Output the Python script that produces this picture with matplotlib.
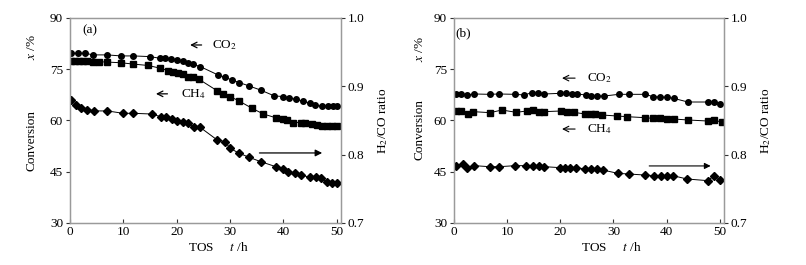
import matplotlib
matplotlib.use("Agg")
import matplotlib.pyplot as plt

plt.rcParams['font.family'] = ['Liberation Serif', 'DejaVu Serif']
plt.rcParams['mathtext.fontset'] = 'stix'

# ---- Panel (a) data ----
a_co2_t = [0.2, 1.6, 2.9, 4.25, 6.9, 9.6, 11.9, 15.0, 16.9, 17.9, 18.9, 20.0, 21.1, 22.2, 23.1, 24.4,
           27.8, 29.1, 30.3, 31.75, 33.6, 35.75, 38.3, 40.0, 41.1, 42.4, 43.6, 45.0, 45.9, 47.2, 48.4, 49.4, 50.1]
a_co2_x = [79.7, 79.7, 79.7, 79.2, 79.2, 78.9, 78.9, 78.7, 78.2, 78.2, 78.0, 77.7, 77.4, 76.9, 76.4, 75.8,
           73.3, 72.6, 71.9, 71.1, 70.1, 68.9, 67.2, 67.0, 66.6, 66.2, 65.7, 65.0, 64.4, 64.2, 64.2, 64.2, 64.2]

a_ch4_t = [0.2, 0.9, 1.7, 2.5, 3.25, 4.4, 5.5, 6.9, 9.6, 11.9, 14.7, 16.9, 18.4, 19.4, 20.3, 21.25, 22.2, 23.0, 24.25,
           27.6, 28.75, 30.0, 31.6, 34.1, 36.25, 38.6, 39.9, 40.75, 41.75, 43.25, 44.1, 45.3, 46.25, 47.2, 48.1, 49.1, 50.0]
a_ch4_x = [77.4, 77.4, 77.4, 77.4, 77.4, 77.2, 77.2, 77.1, 76.9, 76.5, 76.1, 75.3, 74.6, 74.3, 74.0, 73.6, 72.8, 72.6, 72.0,
           68.7, 67.7, 67.0, 65.8, 63.6, 61.9, 60.8, 60.5, 60.1, 59.4, 59.4, 59.2, 59.0, 58.7, 58.4, 58.4, 58.4, 58.4]

a_ratio_t = [0.2, 1.1, 2.0, 3.25, 4.5, 7.0, 10.0, 11.9, 15.3, 17.0, 18.0, 19.1, 20.1, 21.1, 22.2, 23.25, 24.4,
             27.6, 29.1, 30.0, 31.75, 33.6, 35.75, 38.6, 39.9, 40.9, 42.2, 43.4, 45.0, 46.1, 47.0, 48.1, 49.1, 50.1]
a_ratio = [0.880, 0.873, 0.868, 0.866, 0.864, 0.864, 0.8605, 0.8605, 0.8595, 0.8556, 0.8546, 0.8517, 0.8498, 0.8478,
           0.8459, 0.840, 0.840, 0.8215, 0.819, 0.8093, 0.802, 0.7961, 0.7898, 0.7824, 0.779, 0.7751, 0.7727, 0.7702,
           0.7668, 0.7678, 0.7654, 0.7605, 0.758, 0.758]

# ---- Panel (b) data ----
b_co2_t = [0.4, 1.4, 2.4, 3.8, 6.7, 8.4, 11.5, 13.25, 14.6, 15.8, 17.0, 20.0, 21.0, 22.2, 23.2, 24.8, 25.8, 26.9, 28.3,
           31.0, 33.0, 36.0, 37.4, 38.8, 40.1, 41.3, 44.0, 47.7, 49.0, 50.1]
b_co2_x = [67.66, 67.66, 67.46, 67.76, 67.66, 67.76, 67.66, 67.46, 68.15, 67.95, 67.76, 67.95, 67.95, 67.85, 67.76, 67.46,
           67.17, 67.17, 67.17, 67.66, 67.66, 67.66, 66.98, 66.88, 66.78, 66.49, 65.41, 65.41, 65.41, 64.83]

b_ch4_t = [0.4, 1.4, 2.7, 3.6, 6.8, 9.0, 11.7, 13.7, 14.9, 15.9, 17.0, 20.1, 21.2, 22.5, 24.7, 25.75, 26.6, 27.8,
           30.65, 32.5, 35.9, 37.4, 38.8, 40.1, 41.3, 44.0, 47.7, 49.0, 50.4]
b_ch4_x = [62.78, 62.78, 61.80, 62.59, 62.29, 63.07, 62.39, 62.78, 63.07, 62.59, 62.59, 62.78, 62.39, 62.39, 61.90,
           61.90, 61.90, 61.61, 61.32, 61.12, 60.83, 60.63, 60.83, 60.34, 60.44, 60.15, 59.85, 60.15, 59.46]

b_ratio_t = [0.4, 1.6, 2.4, 3.8, 6.7, 8.5, 11.5, 13.5, 14.95, 15.9, 17.0, 20.0, 20.9, 21.9, 23.0, 24.7, 25.75, 26.9,
             27.95, 30.8, 32.85, 35.9, 37.6, 38.9, 40.1, 41.2, 43.8, 47.7, 49.0, 50.1]
b_ratio = [0.7839, 0.7863, 0.7810, 0.7839, 0.7824, 0.7824, 0.7839, 0.7839, 0.7839, 0.7839, 0.7824, 0.7810, 0.7800,
           0.7810, 0.7810, 0.7790, 0.7790, 0.7790, 0.7776, 0.7727, 0.7717, 0.7702, 0.7693, 0.7693, 0.7693, 0.7693,
           0.7644, 0.7620, 0.7693, 0.7629]

x_ticks = [0, 10, 20, 30, 40, 50]
y_ticks = [30, 45, 60, 75, 90]
r_ticks = [0.7, 0.8, 0.9, 1.0]

fig = plt.figure(figsize=(8.06, 2.65), dpi=100)
spine_c = '#9a9a9a'
fs = 9.5


def setup(ax, xlab_x, ylab_x, conv_y, xper_y):
    ax.set_xlim(0, 50.8)
    ax.set_ylim(30, 90)
    ax.set_xticks(x_ticks)
    ax.set_yticks(y_ticks)
    for s in ax.spines.values():
        s.set_color(spine_c)
        s.set_linewidth(0.9)
    ax.tick_params(axis='x', direction='in', length=3, color='#333333', labelsize=fs, pad=2, top=False)
    ax.tick_params(axis='y', direction='out', length=3, color='#333333', labelsize=fs, pad=2)
    ax.set_xlabel('TOS     $t$ /h', fontsize=fs, labelpad=2)
    ax.xaxis.label.set_x(xlab_x)
    ax.set_ylabel('Conversion', fontsize=fs)
    ax.yaxis.set_label_coords(ylab_x, conv_y)
    ax.yaxis.label.set_va('center')
    ax.text(ylab_x, xper_y, '$x$ /%', transform=ax.transAxes, rotation=90,
            fontsize=fs, ha='center', va='center')
    ax2 = ax.twinx()
    ax2.set_ylim(0.7, 1.0)
    ax2.set_yticks(r_ticks)
    ax2.set_yticklabels(['0.7', '0.8', '0.9', '1.0'])
    for s in ax2.spines.values():
        s.set_color(spine_c)
        s.set_linewidth(0.9)
    ax2.tick_params(axis='y', direction='out', length=3, color='#333333', labelsize=fs, pad=2)
    ax2.set_ylabel('H$_2$/CO ratio', fontsize=fs, labelpad=8)
    return ax2


line_kw = dict(color='black', lw=0.7)

# Panel (a)
axa = fig.add_axes([0.0868, 0.1585, 0.3362, 0.7736])
axa2 = setup(axa, 0.546, -0.141, 0.402, 0.856)
axa.plot(a_co2_t, a_co2_x, marker='o', ms=4, **line_kw)
axa.plot(a_ch4_t, a_ch4_x, marker='s', ms=4.5, **line_kw)
axa2.plot(a_ratio_t, a_ratio, marker='D', ms=3.8, **line_kw)
axa.text(3.8, 86.5, '(a)', fontsize=fs, ha='center', va='center')
axa.annotate('', xy=(22.0, 82.1), xytext=(25.2, 82.1),
             arrowprops=dict(arrowstyle='->', color='black', lw=0.9))
axa.text(26.6, 82.1, 'CO$_2$', fontsize=fs, ha='left', va='center')
axa.annotate('', xy=(15.6, 67.8), xytext=(18.8, 67.8),
             arrowprops=dict(arrowstyle='->', color='black', lw=0.9))
axa.text(20.8, 67.8, 'CH$_4$', fontsize=fs, ha='left', va='center')
axa.annotate('', xy=(47.8, 50.5), xytext=(35.0, 50.5),
             arrowprops=dict(arrowstyle='-|>', color='black', lw=0.9, mutation_scale=10))

# Panel (b)
axb = fig.add_axes([0.5633, 0.1585, 0.335, 0.7736])
axb2 = setup(axb, 0.581, -0.126, 0.454, 0.849)
axb.plot(b_co2_t, b_co2_x, marker='o', ms=4, **line_kw)
axb.plot(b_ch4_t, b_ch4_x, marker='s', ms=4.5, **line_kw)
axb2.plot(b_ratio_t, b_ratio, marker='D', ms=3.8, **line_kw)
axb.text(1.8, 85.6, '(b)', fontsize=fs, ha='center', va='center')
axb.annotate('', xy=(19.8, 72.4), xytext=(23.3, 72.4),
             arrowprops=dict(arrowstyle='->', color='black', lw=0.8))
axb.text(25.0, 72.4, 'CO$_2$', fontsize=fs, ha='left', va='center')
axb.annotate('', xy=(19.8, 57.5), xytext=(23.3, 57.5),
             arrowprops=dict(arrowstyle='->', color='black', lw=0.8))
axb.text(25.0, 57.5, 'CH$_4$', fontsize=fs, ha='left', va='center')
axb.annotate('', xy=(48.8, 46.7), xytext=(36.2, 46.7),
             arrowprops=dict(arrowstyle='-|>', color='black', lw=0.8, mutation_scale=9))

fig.savefig('out.png', dpi=100)
